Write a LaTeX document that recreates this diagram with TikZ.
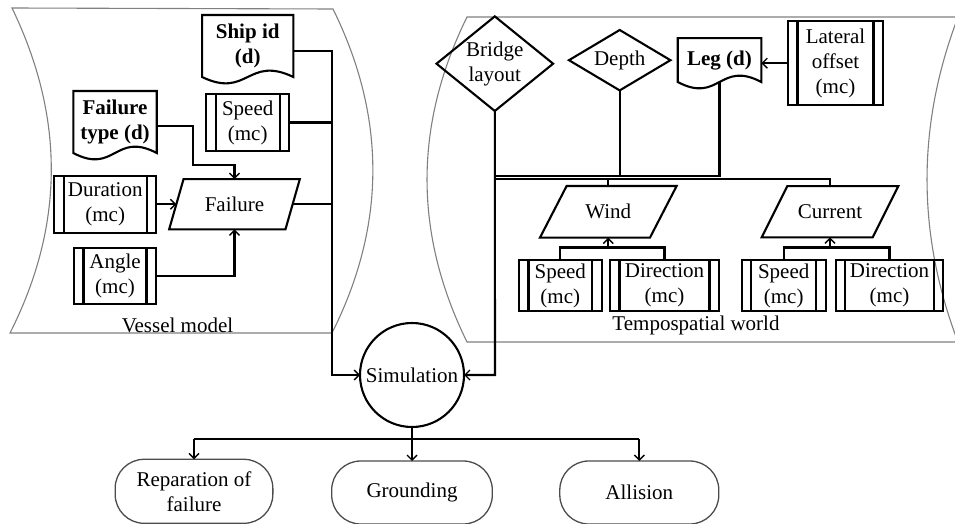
\documentclass[tikz,border=0pt]{standalone}
\usepackage{fontspec}
\setmainfont{Liberation Serif}
\usetikzlibrary{calc,arrows.meta}
\begin{document}
\begin{tikzpicture}[x=1pt,y=-1pt,
  font=\fontsize{21}{25}\selectfont,
  ln/.style={line width=2.1pt},
  arr/.style={ln,-{Straight Barb[length=5pt,width=10pt,line width=1.4pt]}},
  region/.style={draw=black!50,line width=1.1pt},
  ghost/.style={inner sep=0pt,outer sep=0pt,align=center},
  shp/.style={ln,line join=miter},
  mcbox/.style={draw,ln,inner sep=0pt,outer sep=0pt,align=center,
    path picture={\draw[ln] ([xshift=9.5pt]path picture bounding box.north west) -- ([xshift=9.5pt]path picture bounding box.south west)
      ([xshift=-9.5pt]path picture bounding box.north east) -- ([xshift=-9.5pt]path picture bounding box.south east);}},
  term/.style={draw=black!70,line width=1.3pt,rounded corners=29pt,inner sep=0pt,outer sep=0pt,align=center},
  lbl/.style={inner sep=0pt,outer sep=0pt}
]
\useasboundingbox (0,0) rectangle (955,524);
\clip (0,0) rectangle (955,524);

% regions
\draw[region] (12,8) -- (333,9) .. controls (386.3,117) and (386.3,225) .. (332,333) -- (10,333) .. controls (64.7,225) and (64.7,117) .. (12,8) -- cycle;
\draw[region] (467,17) -- (958,17) .. controls (916.7,125.3) and (916.7,233.7) .. (958,342) -- (467,342) .. controls (413.7,233.7) and (413.7,125.3) .. (467,17) -- cycle;
\node[lbl] (vm) at (177.5,325) {Vessel model};
\node[lbl] (tw) at (696,325) {Tempospatial world};

% vessel model nodes
\node[ghost,minimum width=91.3pt,minimum height=62pt] (sid) at (247.7,46) {\textbf{Ship id}\\\textbf{(d)}};
\draw[shp] (sid.south west) -- (sid.north west) -- (sid.north east) -- (sid.south east) .. controls ($(sid.south)+(0,-22)$) and ($(sid.south)+(0,22)$) .. (sid.south west) -- cycle;
\node[ghost,minimum width=83.4pt,minimum height=62pt] (ftype) at (115,122) {\textbf{Failure}\\\textbf{type (d)}};
\draw[shp] (ftype.south west) -- (ftype.north west) -- (ftype.north east) -- (ftype.south east) .. controls ($(ftype.south)+(0,-22)$) and ($(ftype.south)+(0,22)$) .. (ftype.south west) -- cycle;
\node[mcbox,minimum width=83.3pt,minimum height=56.4pt] (lspd) at (247.7,122.5) {Speed\\(mc)};
\node[mcbox,minimum width=101.7pt,minimum height=57pt] (dur) at (105.2,204.2) {Duration\\(mc)};
\node[mcbox,minimum width=82pt,minimum height=56.6pt] (ang) at (115,276) {Angle\\(mc)};
\node[ghost,minimum width=130.7pt,minimum height=50.3pt] (fail) at (234.5,204.2) {Failure};
\draw[shp] ($(fail.north west)+(14.4,0)$) -- (fail.north east) -- ($(fail.south east)+(-14.4,0)$) -- (fail.south west) -- cycle;

% tempospatial nodes
\node[ghost,minimum width=116.6pt,minimum height=94.6pt] (bridge) at (494.8,63.7) {Bridge\\layout};
\draw[shp] (bridge.north) -- (bridge.east) -- (bridge.south) -- (bridge.west) -- cycle;
\node[ghost,minimum width=101.5pt,minimum height=60.4pt] (depth) at (619.7,60.2) {Depth};
\draw[shp] (depth.north) -- (depth.east) -- (depth.south) -- (depth.west) -- cycle;
\node[ghost,minimum width=83.6pt,minimum height=43.8pt] (leg) at (719.5,60.1) {\textbf{Leg (d)}};
\draw[shp] (leg.south west) -- (leg.north west) -- (leg.north east) -- (leg.south east) .. controls ($(leg.south)+(0,-22)$) and ($(leg.south)+(0,22)$) .. (leg.south west) -- cycle;
\node[mcbox,minimum width=95pt,minimum height=84pt] (lat) at (835.5,63.2) {Lateral\\offset\\(mc)};
\node[ghost,minimum width=136.7pt,minimum height=51.7pt] (wind) at (608.3,211.8) {Wind};
\draw[shp] ($(wind.north west)+(26.7,0)$) -- (wind.north east) -- ($(wind.south east)+(-26.7,0)$) -- (wind.south west) -- cycle;
\node[ghost,minimum width=136.6pt,minimum height=51.3pt] (cur) at (830,211.7) {Current};
\draw[shp] ($(cur.north west)+(25.6,0)$) -- (cur.north east) -- ($(cur.south east)+(-25.6,0)$) -- (cur.south west) -- cycle;
\node[mcbox,minimum width=82.7pt,minimum height=51pt] (wspd) at (560.3,285.5) {Speed\\(mc)};
\node[mcbox,minimum width=109pt,minimum height=51pt] (wdir) at (664.5,285.5) {Direction\\(mc)};
\node[mcbox,minimum width=84pt,minimum height=51pt] (cspd) at (783.7,285.5) {Speed\\(mc)};
\node[mcbox,minimum width=107.6pt,minimum height=51pt] (cdir) at (889.5,285.5) {Direction\\(mc)};

% simulation and outcomes
\node[draw,ln,circle,minimum size=104pt,inner sep=0pt,outer sep=0pt] (sim) at (412,375) {Simulation};
\node[term,minimum width=157.7pt,minimum height=64pt] (rep) at (194,491.3) {Reparation of\\failure};
\node[term,minimum width=160.6pt,minimum height=63pt] (gro) at (412,492.5) {Grounding};
\node[term,minimum width=159pt,minimum height=63pt] (all) at (639.3,492.5) {Allision};

% coordinates
\coordinate (fj) at (192.7,165);
\coordinate (lbus) at (331.7,375);
\coordinate (rbus) at (495,375);
\coordinate (b1) at (495,176);
\coordinate (b2) at (495,179);
\coordinate (wj) at (608.3,247.5);
\coordinate (cj) at (830,247.5);
\coordinate (oj) at (412,439);

% vessel connectors
\draw[arr] ($(ftype.east)+(0,4)$) -| (fj) -| (fail.north);
\draw[arr] (ang.east) -| (fail.south);
\draw[arr] (dur.east) -- ($(fail.west)+(7.2,0)$);
\draw[arr] ($(sid.east)+(0,5)$) -| (lbus) -- (sim.west);
\draw[ln] (lspd.east) -- (lspd.east -| lbus);
\draw[ln] ($(fail.east)+(-7.2,0)$) -- (fail.east -| lbus);

% tempospatial connectors
\draw[arr] (lat.west) -- (lat.west -| leg.east);
\draw[arr] (bridge.south) -- (rbus) -- (sim.east);
\draw[ln] (b1) -| (leg.south);
\draw[ln] (depth.south) -- (depth.south |- b1);
\draw[ln] (b2) -| (cur.north);
\draw[ln] (wind.north) -- (wind.north |- b2);
\draw[ln] (wspd.north) |- (wj) -| (wdir.north);
\draw[arr] (wj) -- (wind.south);
\draw[ln] (cspd.north) |- (cj) -| (cdir.north);
\draw[arr] (cj) -- (cur.south);

% outcomes
\draw[ln] (rep.north |- oj) -- (all.north |- oj);
\draw[arr] (sim.south) -- (gro.north);
\draw[arr] (rep.north |- oj) -- (rep.north);
\draw[arr] (all.north |- oj) -- (all.north);
\end{tikzpicture}
\end{document}
